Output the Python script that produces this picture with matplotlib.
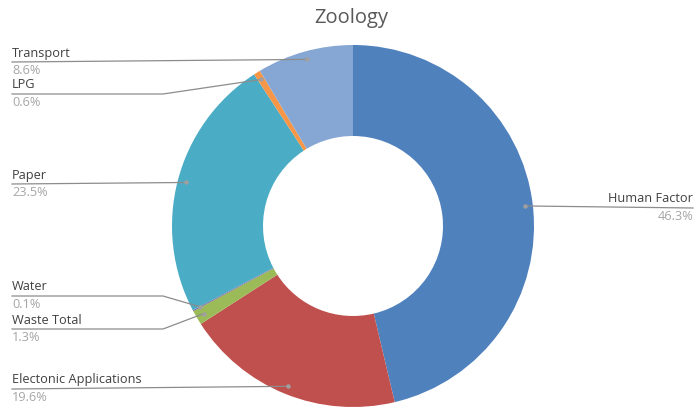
import matplotlib
matplotlib.use("Agg")
import matplotlib.pyplot as plt
import numpy as np

# ---- data ----
categories = ["Human Factor", "Electonic Applications", "Waste Total", "Water",
              "Paper", "LPG", "Transport"]
values = [46.3, 19.6, 1.3, 0.1, 23.5, 0.6, 8.6]
pct_labels = ["46.3%", "19.6%", "1.3%", "0.1%", "23.5%", "0.6%", "8.6%"]
title = "Zoology"

# ---- style / layout ----
colors = ["#4F81BD", "#C0504D", "#9BBB59", "#8064A2", "#4BACC6", "#F79646", "#86A7D3"]
W, H = 695, 408
cx, cy_img = 353, 226
R = 181
hole = 90
# label line y (image coords), side, elbow x (None = straight)
label_line_y = [208, 389, 329, 296, 184, 94, 62]
label_side = ["right", "left", "left", "left", "left", "left", "left"]
label_elbow = [None, None, 163, 163, None, 163, None]

plt.rcParams['font.family'] = ['Open Sans', 'DejaVu Sans']
fig = plt.figure(figsize=(W / 100, H / 100), dpi=100)
ax = fig.add_axes([0, 0, 1, 1])

cy = H - cy_img
wedges, _ = ax.pie(values, colors=colors, startangle=90, counterclock=False,
                   center=(cx, cy), radius=R,
                   wedgeprops=dict(width=R - hole, linewidth=0, edgecolor="white"))
ax.set_xlim(0, W)
ax.set_ylim(0, H)
ax.set_aspect("equal")
ax.axis("off")

line_col = "#8C8C8C"
total = sum(values)
cum = 0
for i, v in enumerate(values):
    mid = cum + v / 2
    cum += v
    ang = np.deg2rad(90 - 360 * mid / total)
    pr = R * 0.955
    px = cx + pr * np.cos(ang)
    py = cy + pr * np.sin(ang)
    ly = H - label_line_y[i]
    if label_side[i] == "left":
        x0 = 12
        if label_elbow[i] is None:
            ax.plot([x0, px], [ly, py], color=line_col, lw=0.9)
        else:
            ax.plot([x0, label_elbow[i], px], [ly, ly, py], color=line_col, lw=0.9)
        ha, tx = "left", x0
    else:
        x1 = 693
        ax.plot([px, x1], [py, ly], color=line_col, lw=0.9)
        ha, tx = "right", x1
    ax.plot([px], [py], marker="o", ms=3.2, color="#A0A0A0", mec="none")
    ax.text(tx, ly + 2.5, categories[i], ha=ha, va="bottom", fontsize=9.2, color="#404040")
    ax.text(tx, ly - 2, pct_labels[i], ha=ha, va="top", fontsize=9.2, color="#A6A6A6")

ax.text(351, H - 18, title, ha="center", va="center", fontsize=14.5, color="#595959")

fig.savefig("out.png", dpi=100)
